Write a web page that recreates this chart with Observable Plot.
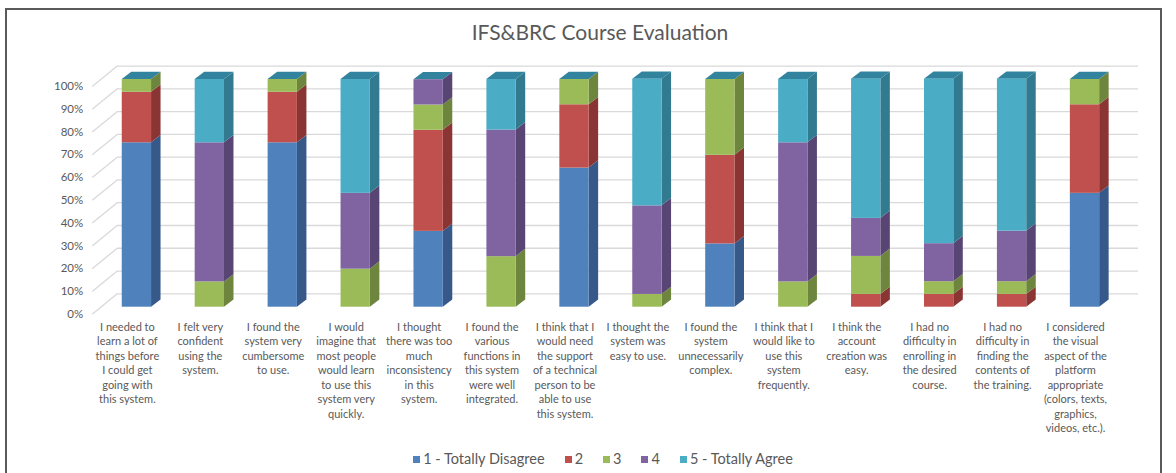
<!DOCTYPE html>
<html>
<head>
<meta charset="utf-8">
<script src="https://cdn.jsdelivr.net/npm/d3@7"></script>
<script src="https://cdn.jsdelivr.net/npm/@observablehq/plot@0.6"></script>
<style>
  html, body { margin: 0; padding: 0; background: #fff; }
  body { width: 1176px; height: 473px; position: relative; overflow: hidden; font-family: Lato, "Open Sans", sans-serif; }
  #frame { position: absolute; left: 5px; top: 8px; width: 1157px; height: 480px; border: 2px solid #5a5a5a; box-sizing: border-box; }
  #title { position: absolute; left: 12px; width: 1176px; top: 19px; text-align: center; font-size: 21px; color: #595959; line-height: 25px; }
  #chart { position: absolute; left: 0; top: 0; }
  #legend { position: absolute; top: 450px; left: 0; width: 1206px; display: flex; justify-content: center; gap: 20px; font-size: 14.5px; color: #595959; line-height: 18px; }
  #legend .item { display: flex; align-items: center; gap: 3px; }
  #legend .sw { width: 7px; height: 7px; display: inline-block; }
</style>
</head>
<body>
<div id="frame"></div>
<div id="chart"></div>
<div id="title">IFS&amp;BRC Course Evaluation</div>
<div id="legend"></div>
<script>
// ---- data ----
const categories = [
  "I needed to\nlearn a lot of\nthings before\nI could get\ngoing with\nthis system.",
  "I felt very\nconfident\nusing the\nsystem.",
  "I found the\nsystem very\ncumbersome\nto use.",
  "I would\nimagine that\nmost people\nwould learn\nto use this\nsystem very\nquickly.",
  "I thought\nthere was too\nmuch\ninconsistency\nin this\nsystem.",
  "I found the\nvarious\nfunctions in\nthis system\nwere well\nintegrated.",
  "I think that I\nwould need\nthe support\nof a technical\nperson to be\nable to use\nthis system.",
  "I thought the\nsystem was\neasy to use.",
  "I found the\nsystem\nunnecessarily\ncomplex.",
  "I think that I\nwould like to\nuse this\nsystem\nfrequently.",
  "I think the\naccount\ncreation was\neasy.",
  "I had no\ndifficulty in\nenrolling in\nthe desired\ncourse.",
  "I had no\ndifficulty in\nfinding the\ncontents of\nthe training.",
  "I considered\nthe visual\naspect of the\nplatform\nappropriate\n(colors, texts,\ngraphics,\nvideos, etc.)."
];
const seriesNames = ["1 - Totally Disagree", "2", "3", "4", "5 - Totally Agree"];
const s1 = [72.2, 0, 72.2, 0, 33.3, 0, 61.1, 0, 27.8, 0, 0, 0, 0, 50.0];
const s2 = [22.2, 0, 22.2, 0, 44.4, 0, 27.8, 0, 38.9, 0, 5.6, 5.6, 5.6, 38.9];
const s3 = [5.6, 11.1, 5.6, 16.7, 11.1, 22.2, 11.1, 5.6, 33.3, 11.1, 16.7, 5.6, 5.6, 11.1];
const s4 = [0, 61.1, 0, 33.3, 11.1, 55.6, 0, 38.9, 0, 61.1, 16.7, 16.7, 22.2, 0];
const s5 = [0, 27.8, 0, 50.0, 0, 22.2, 0, 55.6, 0, 27.8, 61.1, 72.2, 66.7, 0];
const yTicks = [0, 10, 20, 30, 40, 50, 60, 70, 80, 90, 100];

// ---- styles ----
const FRONT = ["#4f81bd", "#c0504d", "#9bbb59", "#8064a2", "#4bacc6"];
const SIDE  = ["#37598a", "#8a3533", "#6d853c", "#594574", "#327a8f"];
const TOP = "#31839e";
const GRID = "#d9d9d9";
const TEXT = "#595959";

// ---- geometry (pixels converted to scale units) ----
const X0 = 136.4, X1 = 1084.5, Y0 = 306.7, Y100 = 79;
const KX = (X1 - X0) / (categories.length - 1);
const KY = (Y0 - Y100) / 100;
const HW = 14.65 / KX;            // half bar width
const BDX = 9.5 / KX, BDY = 7.3 / KY;   // bar depth
const backX1 = (116.7 - X0) / KX, backX2 = (1138 - X0) / KX, backDY = 13.4 / KY;
const wallX = (91.7 - X0) / KX, wallDY = 7 / KY;

const values = [s1, s2, s3, s4, s5];
const segs = [];
categories.forEach((c, i) => {
  let acc = 0;
  values.forEach((arr, s) => {
    const v = arr[i];
    if (v > 0) { segs.push({i, s, lo: acc, hi: acc + v}); acc += v; }
  });
});
const sidePts = segs.flatMap((d, k) => [
  {key: k, x: d.i + HW, y1: d.lo, y2: d.hi, fill: SIDE[d.s]},
  {key: k, x: d.i + HW + BDX, y1: d.lo + BDY, y2: d.hi + BDY, fill: SIDE[d.s]}
]);
const tops = categories.map((c, i) => d3.max(segs.filter(d => d.i === i), d => d.hi));
const topPts = tops.flatMap((t, i) => [
  {key: i, y: t, x1: i - HW, x2: i + HW},
  {key: i, y: t + BDY, x1: i - HW + BDX, x2: i + HW + BDX}
]);

const chart = Plot.plot({
  width: 1176,
  height: 473,
  marginLeft: 0, marginRight: 0, marginTop: 0, marginBottom: 0,
  x: {type: "linear", domain: [0, categories.length - 1], range: [X0, X1], axis: null},
  y: {domain: [0, 100], range: [Y0, Y100], axis: null},
  color: {type: "identity"},
  style: {fontFamily: "Lato, 'Open Sans', sans-serif", color: TEXT, background: "transparent", overflow: "visible"},
  marks: [
    Plot.ruleY(yTicks, {y: d => d + backDY, x1: backX1, x2: backX2, stroke: GRID, strokeWidth: 1.3}),
    Plot.link(yTicks, {x1: wallX, y1: d => d - wallDY, x2: backX1, y2: d => d + backDY, stroke: GRID, strokeWidth: 1.3}),
    Plot.areaY(sidePts, {x: "x", y1: "y1", y2: "y2", z: "key", fill: "fill", curve: "linear"}),
    Plot.areaX(topPts, {y: "y", x1: "x1", x2: "x2", z: "key", fill: TOP, curve: "linear"}),
    Plot.rect(segs, {x1: d => d.i - HW, x2: d => d.i + HW, y1: "lo", y2: "hi", fill: d => FRONT[d.s]}),
    Plot.text(yTicks, {x: wallX, y: d => d - wallDY, text: d => d + "%", textAnchor: "end", dx: -9, fontSize: 11.5, fill: TEXT}),
    Plot.text(categories, {x: (d, i) => i, y: 0, text: d => d, lineAnchor: "top", dy: 13, dx: -9.5, fontSize: 11, lineHeight: 1.32, fill: TEXT})
  ]
});
document.getElementById("chart").appendChild(chart);

const legend = document.getElementById("legend");
seriesNames.forEach((n, s) => {
  const it = document.createElement("div");
  it.className = "item";
  const sw = document.createElement("span");
  sw.className = "sw";
  sw.style.background = FRONT[s];
  const t = document.createElement("span");
  t.textContent = n;
  it.appendChild(sw); it.appendChild(t);
  legend.appendChild(it);
});
</script>
</body>
</html>
